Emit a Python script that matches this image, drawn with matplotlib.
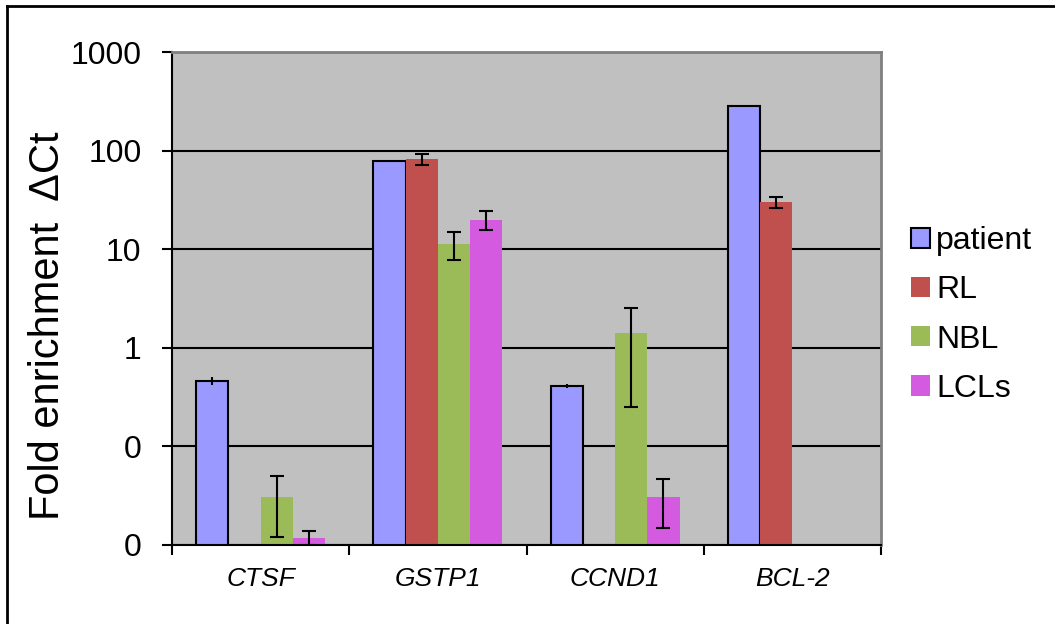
import matplotlib.pyplot as plt
import matplotlib.lines as mlines
import numpy as np

plt.rcParams['font.family'] = ['Liberation Sans', 'DejaVu Sans']

genes = ['CTSF', 'GSTP1', 'CCND1', 'BCL-2']
series = ['patient', 'RL', 'NBL', 'LCLs']
colors = ['#9999FF', '#C0504D', '#9BBB59', '#D45AE0']

# values per series (nan = no bar)
patient = [0.46, 78, 0.41, 286]
patient_err = [0.04, 2, 0.015, 5]
rl = [np.nan, 82, np.nan, 30]
rl_err = [np.nan, 11, np.nan, 4]
nbl = [0.031, 11.3, 1.4, np.nan]
nbl_err = [0.019, 3.6, 1.15, np.nan]
lcls = [0.0119, 20, 0.031, np.nan]
lcls_err = [0.002, 4.3, 0.016, np.nan]

yticks = [0.01, 0.1, 1, 10, 100, 1000]
ytick_labels = ['0', '0', '1', '10', '100', '1000']

fig = plt.figure(figsize=(10.55, 6.24), dpi=100)
ax = fig.add_axes([172/1055, 1-545/624, (881-172)/1055, (545-52)/624])
ax.set_facecolor('#C0C0C0')

x = np.arange(len(genes))
w = 1/5.5
vals = [patient, rl, nbl, lcls]
errs = [patient_err, rl_err, nbl_err, lcls_err]
for i, (v, e) in enumerate(zip(vals, errs)):
    pos = x + (i - 1.5) * w
    ec = 'black' if i == 0 else 'none'
    ax.bar(pos, v, w, color=colors[i], edgecolor=ec, linewidth=1.5,
           label=series[i], zorder=2)
    ax.errorbar(pos, v, yerr=e, fmt='none', ecolor='black', elinewidth=1.5,
                capsize=5 if i else 0, capthick=1.5, zorder=3)

ax.set_yscale('log')
ax.set_ylim(0.01, 1000)
ax.set_xlim(-0.5, len(genes) - 0.5)
ax.set_yticks(yticks)
ax.set_yticklabels(ytick_labels)
ax.minorticks_off()
ax.yaxis.grid(True, color='black', linewidth=1.5, zorder=1)
ax.set_axisbelow(True)

ax.set_xticks(np.arange(len(genes) + 1) - 0.5)
ax.set_xticklabels([])
ax.set_xticks(x, minor=True)
ax.set_xticklabels(genes, minor=True, style='italic', fontsize=19)
ax.tick_params(axis='x', which='minor', length=0, pad=16)
ax.tick_params(axis='x', which='major', length=7, width=1.5, direction='out')
ax.tick_params(axis='y', length=7, width=1.5, labelsize=23, pad=15)

for s in ['top', 'right']:
    ax.spines[s].set_color('#808080')
    ax.spines[s].set_linewidth(2)
for s in ['left', 'bottom']:
    ax.spines[s].set_linewidth(1.5)

fig.text(48/1055, 1-326/624, 'Fold enrichment  \u0394Ct', fontsize=30,
         rotation=90, ha='center', va='center')

handles, labels = ax.get_legend_handles_labels()
leg = fig.legend(handles, labels, loc='center left', bbox_to_anchor=(882/1055, 1-315/624),
                 frameon=False, fontsize=23, handlelength=0.6, handleheight=0.6,
                 handletextpad=0.2, labelspacing=0.6)

# figure border lines (left and top)
fig.add_artist(mlines.Line2D([7/1055, 7/1055], [0, 1-6/624], color='black', lw=2))
fig.add_artist(mlines.Line2D([7/1055, 1], [1-6/624, 1-6/624], color='black', lw=2))

fig.savefig('out.png', dpi=100)
